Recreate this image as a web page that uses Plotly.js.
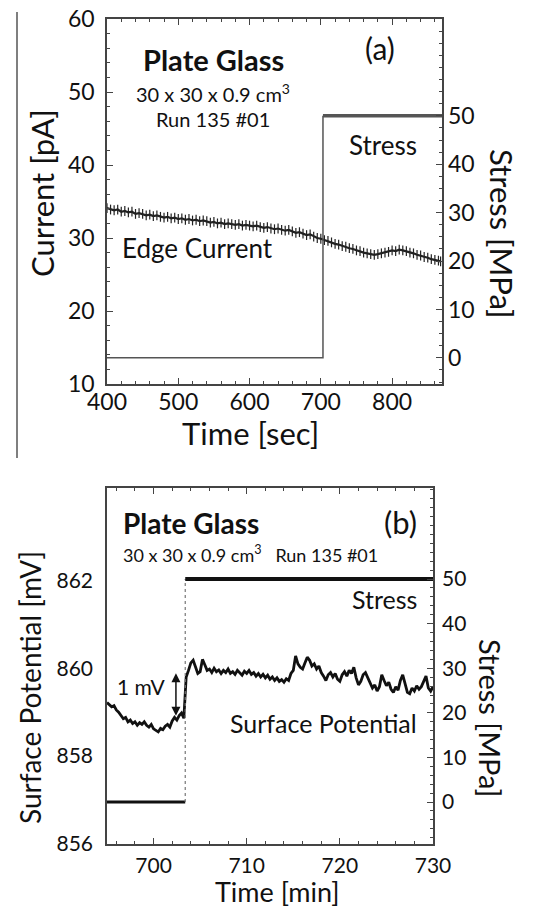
<!DOCTYPE html>
<html>
<head>
<meta charset="utf-8">
<script src="https://cdn.plot.ly/plotly-3.0.1.min.js"></script>
<style>
html,body{margin:0;padding:0;background:#fff;}
#chart{width:542px;height:910px;}
</style>
</head>
<body>
<div id="chart"></div>
<script>
// ---------- Panel (a): edge current vs time [sec] ----------
const edgeTime = [400,405,410,415,420,425,430,435,440,445,450,455,460,465,470,475,480,485,490,495,
  500,505,510,515,520,525,530,535,540,545,550,555,560,565,570,575,580,585,590,595,
  600,605,610,615,620,625,630,635,640,645,650,655,660,665,670,675,680,685,690,695,
  700,705,710,715,720,725,730,735,740,745,750,755,760,765,770,775,780,785,790,795,
  800,805,810,815,820,825,830,835,840,845,850,855,860,865,868];
const edgeCurrent = [34.1,33.9,33.8,33.9,33.6,33.7,33.5,33.6,33.3,33.4,33.3,33.1,33.2,33.0,33.1,32.9,32.8,32.9,32.7,32.8,
  32.6,32.7,32.5,32.6,32.4,32.5,32.3,32.4,32.3,32.1,32.2,32.0,32.1,31.9,32.0,31.9,31.8,31.9,31.7,31.8,
  31.7,31.6,31.7,31.5,31.4,31.5,31.3,31.2,31.3,31.1,31.0,31.1,30.9,30.7,30.8,30.6,30.4,30.5,30.2,30.0,
  29.9,29.7,29.6,29.4,29.2,29.1,28.9,28.8,28.6,28.5,28.3,28.2,28.0,27.9,27.8,27.7,27.8,27.9,28.0,28.1,
  28.3,28.2,28.4,28.3,28.2,28.0,27.9,27.7,27.6,27.4,27.3,27.1,27.0,26.9,26.8];
const stressTimeA_low = [400, 703, 703];
const stressA_low = [0, 0, 50];
const stressTimeA_high = [703, 870];
const stressA_high = [50, 50];

// ---------- Panel (b): surface potential vs time [min] ----------
const spTime = [695.00,695.25,695.50,695.75,696.00,696.25,696.50,696.75,697.00,697.25,697.50,697.75,
  698.00,698.25,698.50,698.75,699.00,699.25,699.50,699.75,700.00,700.25,700.50,700.75,
  701.00,701.25,701.50,701.75,702.00,702.25,702.50,702.75,703.00,703.25,703.50,703.75,
  704.00,704.25,704.50,704.75,705.00,705.25,705.50,705.75,706.00,706.25,706.50,706.75,
  707.00,707.25,707.50,707.75,708.00,708.25,708.50,708.75,709.00,709.25,709.50,709.75,
  710.00,710.25,710.50,710.75,711.00,711.25,711.50,711.75,712.00,712.25,712.50,712.75,
  713.00,713.25,713.50,713.75,714.00,714.25,714.50,714.75,715.00,715.25,715.50,715.75,
  716.00,716.25,716.50,716.75,717.00,717.25,717.50,717.75,718.00,718.25,718.50,718.75,
  719.00,719.25,719.50,719.75,720.00,720.25,720.50,720.75,721.00,721.25,721.50,721.75,
  722.00,722.25,722.50,722.75,723.00,723.25,723.50,723.75,724.00,724.25,724.50,724.75,
  725.00,725.25,725.50,725.75,726.00,726.25,726.50,726.75,727.00,727.25,727.50,727.75,
  728.00,728.25,728.50,728.75,729.00,729.25,729.50,729.75,730.00];
const surfacePotential = [859.22,859.18,859.12,859.15,859.05,859.00,858.92,858.85,858.88,858.78,858.82,858.74,
  858.78,858.70,858.76,858.72,858.78,858.70,858.66,858.72,858.62,858.58,858.55,858.63,
  858.60,858.68,858.72,858.66,858.80,858.88,858.82,858.92,858.98,858.86,859.80,859.95,
  860.12,860.18,860.00,859.88,859.92,860.20,860.08,859.95,859.98,859.90,860.00,859.92,
  859.96,859.88,859.95,859.90,859.98,859.88,859.92,859.86,859.95,859.90,859.84,859.93,
  859.88,859.95,859.86,859.90,859.82,859.88,859.80,859.86,859.78,859.84,859.75,859.80,
  859.72,859.78,859.70,859.74,859.68,859.76,859.72,859.88,859.95,860.28,860.10,860.02,
  859.98,860.12,860.25,860.18,860.05,860.10,859.98,860.05,859.90,859.82,859.72,859.85,
  859.90,859.80,859.88,859.75,859.70,859.85,859.92,859.82,859.95,859.88,860.02,859.78,
  859.62,859.70,859.85,859.90,859.78,859.68,859.55,859.62,859.48,859.58,859.85,859.72,
  859.60,859.68,859.52,859.45,859.58,859.50,859.72,859.85,859.62,859.45,859.42,859.55,
  859.48,859.60,859.52,859.58,859.70,859.82,859.55,859.48,859.58];
const stressTimeB_low = [695, 703.4];
const stressB_low = [0, 0];
const stressTimeB_step = [703.4, 703.4];
const stressB_step = [0, 50];
const stressTimeB_high = [703.4, 730];
const stressB_high = [50, 50];

const tickA_x = [400,500,600,700,800];
const tickA_y = [10,20,30,40,50,60];
const tickA_y2 = [0,10,20,30,40,50];
const tickB_x = [700,710,720,730];
const tickB_y = [856,858,860,862];
const tickB_y2 = [0,10,20,30,40,50];

const FONT = 'Lato, "Open Sans", sans-serif';
const AX = '#444';
const W = 542, H = 910;
const px = v => v / W;
const py = v => 1 - v / H;

const traces = [
  {x: stressTimeA_low, y: stressA_low, xaxis:'x', yaxis:'y2', mode:'lines',
   line:{color:'#555', width:1.5}, hoverinfo:'skip'},
  {x: stressTimeA_high, y: stressA_high, xaxis:'x', yaxis:'y2', mode:'lines',
   line:{color:'#555', width:3.5}, hoverinfo:'skip'},
  {x: edgeTime, y: edgeCurrent, xaxis:'x', yaxis:'y', mode:'lines+markers',
   line:{color:'#222', width:2.2},
   marker:{symbol:'line-ns-open', size:7, color:'#222', line:{width:1.2, color:'#222'}}},
  {x: stressTimeB_low, y: stressB_low, xaxis:'x2', yaxis:'y4', mode:'lines',
   line:{color:'#111', width:3}, hoverinfo:'skip'},
  {x: stressTimeB_step, y: stressB_step, xaxis:'x2', yaxis:'y4', mode:'lines',
   line:{color:'#777', width:1.2, dash:'dot'}, hoverinfo:'skip'},
  {x: stressTimeB_high, y: stressB_high, xaxis:'x2', yaxis:'y4', mode:'lines',
   line:{color:'#111', width:4}, hoverinfo:'skip'},
  {x: spTime, y: surfacePotential, xaxis:'x2', yaxis:'y3', mode:'lines',
   line:{color:'#111', width:2.8}}
];

const baseAxis = {
  showgrid:false, zeroline:false, showline:true, linecolor:AX, linewidth:1.8,
  ticks:'inside', tickcolor:AX, ticklen:6, tickwidth:1,
  tickfont:{family:FONT, color:'#111'}, automargin:false
};

const layout = {
  width:W, height:H, margin:{l:0,r:0,t:0,b:0},
  paper_bgcolor:'#fff', plot_bgcolor:'#fff', showlegend:false,
  font:{family:FONT, color:'#111'},
  xaxis: Object.assign({}, baseAxis, {
    domain:[px(107), px(442)], range:[400,870], anchor:'y',
    tickvals:tickA_x, tickfont:{family:FONT, size:23, color:'#111'}, ticklabelstandoff:-3,
    mirror:'ticks', minor:{ticks:'inside', dtick:20, tick0:400, ticklen:3, tickcolor:AX}
  }),
  yaxis: Object.assign({}, baseAxis, {
    domain:[py(384), py(19)], range:[10,60], anchor:'x',
    tickvals:tickA_y, tickfont:{family:FONT, size:23, color:'#111'}, ticklabelstandoff:6,
    mirror:true, minor:{ticks:'inside', dtick:2, tick0:10, ticklen:3, tickcolor:AX}
  }),
  yaxis2: Object.assign({}, baseAxis, {
    overlaying:'y', side:'right', anchor:'x', range:[-5.4,70],
    tickvals:tickA_y2, tickfont:{family:FONT, size:23, color:'#111'}, showline:false, ticklabelstandoff:5,
    minor:{ticks:'inside', dtick:2.5, tick0:0, ticklen:3, tickcolor:AX}
  }),
  xaxis2: Object.assign({}, baseAxis, {
    domain:[px(107), px(433)], range:[695,730], anchor:'y3',
    tickvals:tickB_x, tickfont:{family:FONT, size:21, color:'#111'}, ticklabelstandoff:2,
    mirror:'ticks', minor:{ticks:'inside', dtick:2, tick0:700, ticklen:3, tickcolor:AX}
  }),
  yaxis3: Object.assign({}, baseAxis, {
    domain:[py(844), py(488)], range:[856,864.1], anchor:'x2',
    tickvals:tickB_y, tickfont:{family:FONT, size:21, color:'#111'}, ticklabelstandoff:8,
    mirror:true, ticklen:0, minor:{ticks:'', dtick:0.5}
  }),
  yaxis4: Object.assign({}, baseAxis, {
    overlaying:'y3', side:'right', anchor:'x2', range:[-9.4,70.4],
    tickvals:tickB_y2, tickfont:{family:FONT, size:21, color:'#111'}, showline:false, ticklabelstandoff:8,
    minor:{ticks:'inside', dtick:2, tick0:0, ticklen:3, tickcolor:AX}
  }),
  shapes:[
    {type:'line', xref:'paper', yref:'paper', x0:px(17), x1:px(17), y0:py(12), y1:py(458),
     line:{color:'#555', width:1.5}}
  ],
  annotations:[
    {xref:'paper', yref:'paper', x:px(42), y:py(193), text:'Current [pA]', showarrow:false, textangle:-90,
     xanchor:'center', yanchor:'middle', font:{family:FONT, size:31, color:'#111'}},
    {xref:'paper', yref:'paper', x:px(250), y:py(433), text:'Time [sec]', showarrow:false,
     xanchor:'center', yanchor:'middle', font:{family:FONT, size:31, color:'#111'}},
    {xref:'paper', yref:'paper', x:px(213), y:py(60), text:'<b>Plate Glass</b>', showarrow:false,
     xanchor:'center', yanchor:'middle', font:{family:FONT, size:29, color:'#111'}},
    {xref:'paper', yref:'paper', x:px(213), y:py(93), text:'30 x 30 x 0.9 cm<sup>3</sup>', showarrow:false,
     xanchor:'center', yanchor:'middle', font:{family:FONT, size:20, color:'#111'}},
    {xref:'paper', yref:'paper', x:px(213), y:py(119), text:'Run 135 #01', showarrow:false,
     xanchor:'center', yanchor:'middle', font:{family:FONT, size:20, color:'#111'}},
    {xref:'paper', yref:'paper', x:px(380), y:py(48), text:'(a)', showarrow:false,
     xanchor:'center', yanchor:'middle', font:{family:FONT, size:30, color:'#111'}},
    {xref:'paper', yref:'paper', x:px(383), y:py(145), text:'Stress', showarrow:false,
     xanchor:'center', yanchor:'middle', font:{family:FONT, size:26, color:'#111'}},
    {xref:'paper', yref:'paper', x:px(197), y:py(248), text:'Edge Current', showarrow:false,
     xanchor:'center', yanchor:'middle', font:{family:FONT, size:26, color:'#111'}},
    {xref:'paper', yref:'paper', x:px(502), y:py(233), text:'Stress [MPa]', showarrow:false, textangle:90,
     xanchor:'center', yanchor:'middle', font:{family:FONT, size:31, color:'#111'}},

    {xref:'paper', yref:'paper', x:px(30), y:py(688), text:'Surface Potential [mV]', showarrow:false, textangle:-90,
     xanchor:'center', yanchor:'middle', font:{family:FONT, size:28, color:'#111'}},
    {xref:'paper', yref:'paper', x:px(277), y:py(891), text:'Time [min]', showarrow:false,
     xanchor:'center', yanchor:'middle', font:{family:FONT, size:27, color:'#111'}},
    {xref:'paper', yref:'paper', x:px(121), y:py(523), text:'<b>Plate Glass</b>', showarrow:false,
     xanchor:'left', yanchor:'middle', font:{family:FONT, size:28, color:'#111'}},
    {xref:'paper', yref:'paper', x:px(121), y:py(554), text:'30 x 30 x 0.9 cm<sup>3</sup>\u00a0\u00a0\u00a0Run 135 #01', showarrow:false,
     xanchor:'left', yanchor:'middle', font:{family:FONT, size:18, color:'#111'}},
    {xref:'paper', yref:'paper', x:px(400), y:py(522), text:'(b)', showarrow:false,
     xanchor:'center', yanchor:'middle', font:{family:FONT, size:31, color:'#111'}},
    {xref:'paper', yref:'paper', x:px(419), y:py(599), text:'Stress', showarrow:false,
     xanchor:'right', yanchor:'middle', font:{family:FONT, size:25, color:'#111'}},
    {xref:'paper', yref:'paper', x:px(419), y:py(723), text:'Surface Potential', showarrow:false,
     xanchor:'right', yanchor:'middle', font:{family:FONT, size:25, color:'#111'}},
    {xref:'paper', yref:'paper', x:px(141), y:py(686), text:'1 mV', showarrow:false,
     xanchor:'center', yanchor:'middle', font:{family:FONT, size:21, color:'#111'}},
    {xref:'paper', yref:'paper', x:px(491), y:py(718), text:'Stress [MPa]', showarrow:false, textangle:90,
     xanchor:'center', yanchor:'middle', font:{family:FONT, size:29, color:'#111'}},
    {xref:'x2', yref:'y3', x:702.4, y:858.92, axref:'x2', ayref:'y3', ax:702.4, ay:859.92,
     text:'', showarrow:true, arrowhead:2, arrowside:'end+start', arrowsize:1.2, arrowwidth:1.5, arrowcolor:'#111'}
  ]
};

Plotly.newPlot('chart', traces, layout, {displayModeBar:false, staticPlot:true});
</script>
</body>
</html>
